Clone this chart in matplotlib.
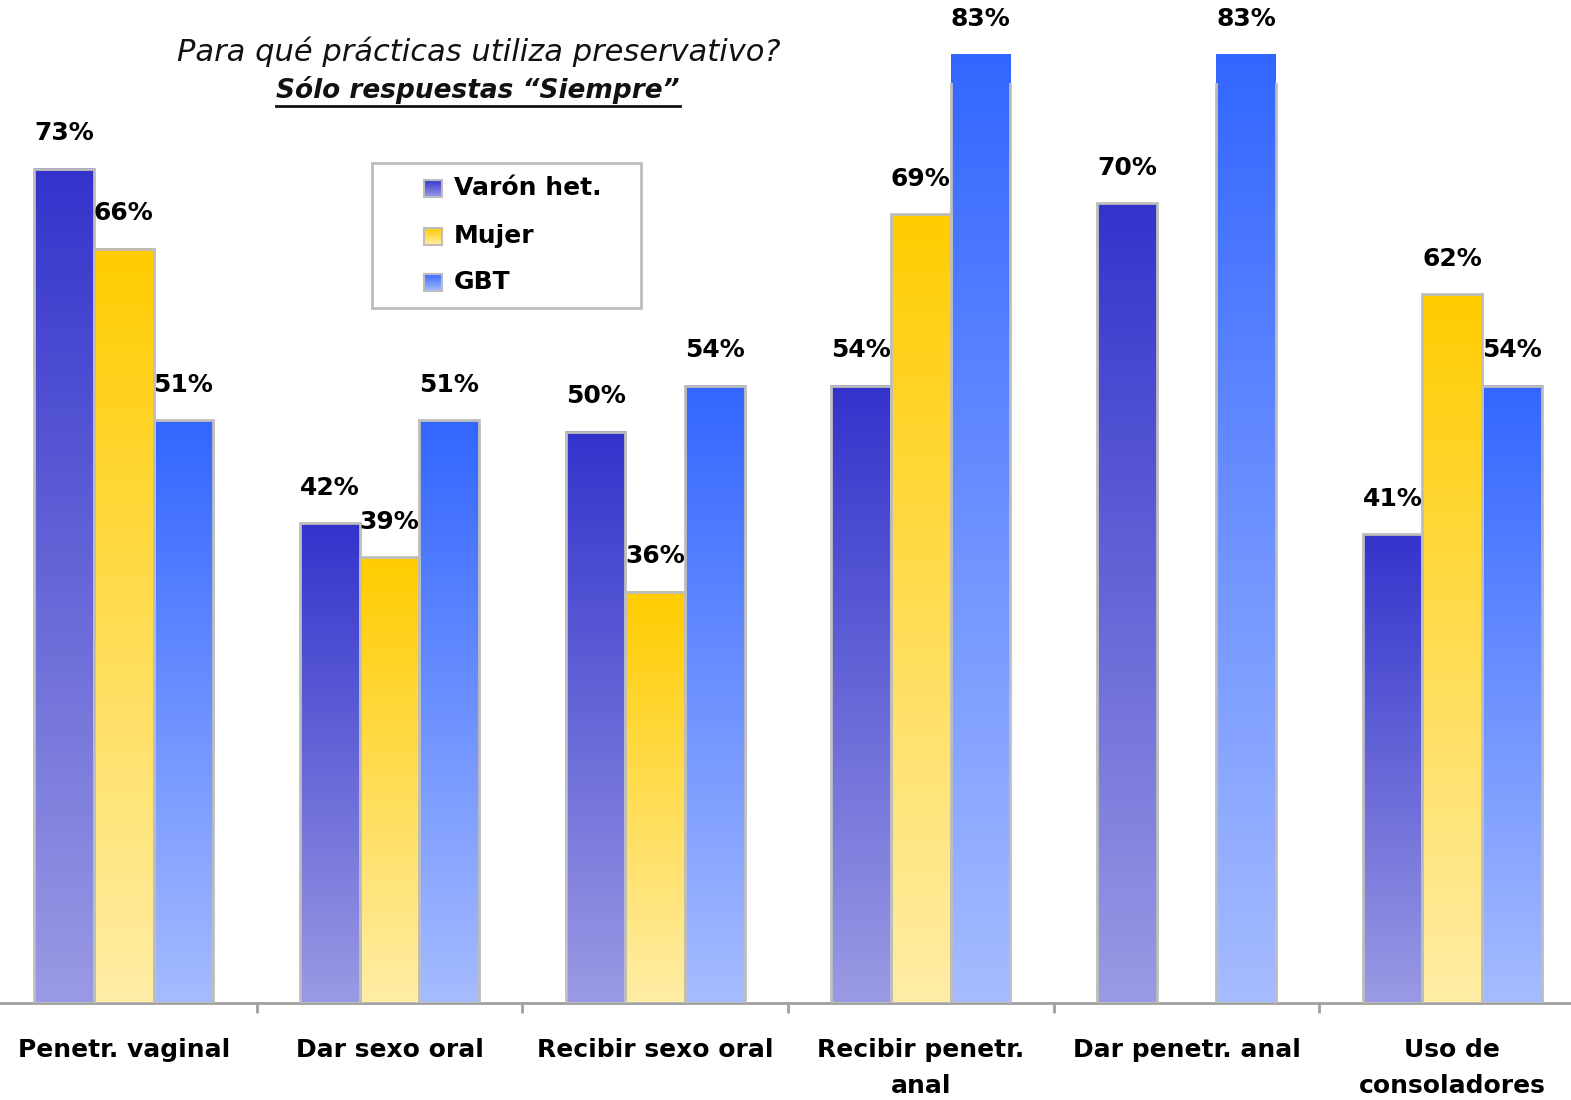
import numpy as np
import matplotlib
matplotlib.use("Agg")
import matplotlib.pyplot as plt
from matplotlib.colors import to_rgb
from matplotlib.patches import Rectangle
from matplotlib.lines import Line2D

# Data
categories = ["Penetr. vaginal", "Dar sexo oral", "Recibir sexo oral",
              "Recibir penetr.\nanal", "Dar penetr. anal", "Uso de\nconsoladores"]
series_names = ["Varón het.", "Mujer", "GBT"]
varon = [73, 42, 50, 54, 70, 41]
mujer = [66, 39, 36, 69, np.nan, 62]
gbt = [51, 51, 54, 83, 83, 54]

title_line1 = "Para qué prácticas utiliza preservativo?"
title_line2 = "Sólo respuestas “Siempre”"

# Style
top_colors = ["#3333CC", "#FFCC00", "#3366FF"]
bottom_colors = ["#9A9AE4", "#FFEDA6", "#A6BCFF"]
edge_gray = "#BDBDBD"
axis_gray = "#A0A0A0"

W, H = 1571, 1100
fig = plt.figure(figsize=(W / 100, H / 100), dpi=100)
ax = fig.add_axes([-9 / W, 97 / H, 1594 / W, 920 / H])


def gradient(top, bottom, n=256):
    t = np.linspace(0, 1, n)[:, None, None]
    a = np.array(to_rgb(top))[None, None, :]
    b = np.array(to_rgb(bottom))[None, None, :]
    return a * (1 - t) + b * t


x = np.arange(len(categories))
width = 0.2245
offsets = [-width, 0, width]

for vals, off, tc, bc in zip([varon, mujer, gbt], offsets, top_colors, bottom_colors):
    vals = np.asarray(vals, dtype=float)
    mask = ~np.isnan(vals)
    bars = ax.bar(x[mask] + off, vals[mask], width, facecolor="none",
                  edgecolor=edge_gray, linewidth=2, zorder=3)
    grad = gradient(tc, bc)
    for b, v in zip(bars, vals[mask]):
        x0, w = b.get_x(), b.get_width()
        ax.imshow(grad, extent=(x0, x0 + w, 0, b.get_height()), aspect="auto",
                  origin="upper", zorder=2, clip_on=False, interpolation="bilinear")
        ax.annotate(f"{v:.0f}%", (x0 + w / 2, v), xytext=(0, 25.5),
                    textcoords="offset points", ha="center", va="center",
                    fontsize=18, fontweight="bold", annotation_clip=False)

ax.set_xlim(-0.5, len(categories) - 0.5)
ax.set_ylim(0, 80.5)

for s in ("left", "right", "top"):
    ax.spines[s].set_visible(False)
ax.spines["bottom"].set_color(axis_gray)
ax.spines["bottom"].set_linewidth(2)
ax.set_yticks([])
ax.set_xticks(x)
ax.set_xticklabels(categories, fontsize=18, fontweight="bold", linespacing=1.6)
ax.set_xticks(np.arange(0.5, len(categories) - 0.5, 1), minor=True)
ax.tick_params(axis="x", which="major", length=0, pad=25.5)
ax.tick_params(axis="x", which="minor", length=7, width=2, color=axis_gray)

# Title
fig.text(479 / W, 1 - 52 / H, title_line1, ha="center", va="center",
         fontsize=22, style="italic", color="#111111")
t2 = fig.text(478 / W, 1 - 90 / H, title_line2, ha="center", va="center",
              fontsize=19, style="italic", fontweight="bold", color="#111111")
fig.canvas.draw()
bb = t2.get_window_extent(fig.canvas.get_renderer())
fig.add_artist(Line2D([bb.x0 / W, bb.x1 / W], [1 - 106 / H, 1 - 106 / H],
                      transform=fig.transFigure, color="#111111", linewidth=2))

# Legend
fig.add_artist(Rectangle((372 / W, 1 - 308 / H), 269 / W, 145 / H,
                         transform=fig.transFigure, fill=False,
                         edgecolor=edge_gray, linewidth=2))
for name, yc, tc, bc in zip(series_names, (188, 236, 282), top_colors, bottom_colors):
    sq = fig.add_axes([424 / W, 1 - (yc + 9) / H, 18 / W, 17 / H])
    sq.imshow(gradient(tc, bc), aspect="auto", interpolation="bilinear")
    sq.set_xticks([])
    sq.set_yticks([])
    for sp in sq.spines.values():
        sp.set_color(edge_gray)
        sp.set_linewidth(1.5)
    fig.text(454 / W, 1 - yc / H, name, ha="left", va="center",
             fontsize=18, fontweight="bold")

fig.savefig("out.png", dpi=100)
